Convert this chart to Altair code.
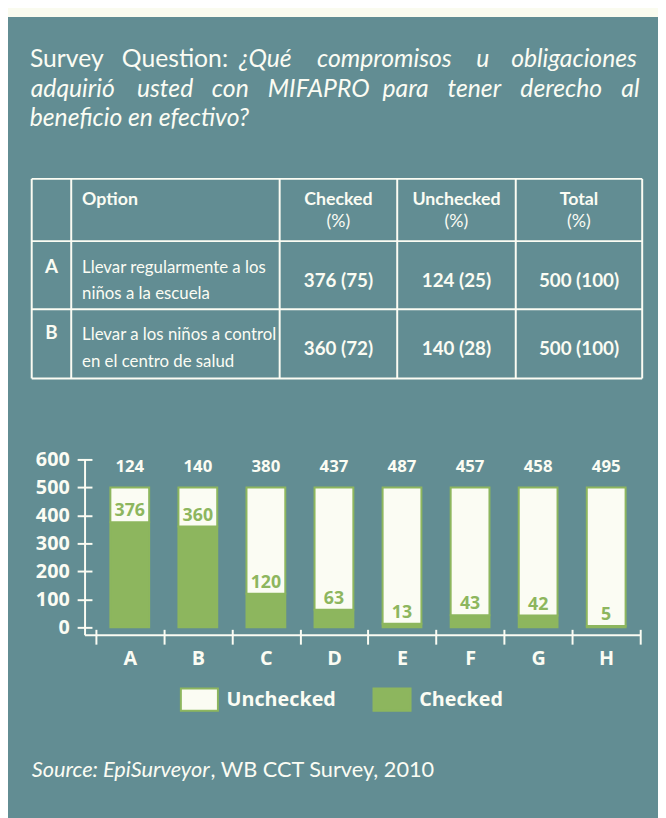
import altair as alt
import pandas as pd

# ---------------- data ----------------
categories = ["A", "B", "C", "D", "E", "F", "G", "H"]
checked = [376, 360, 120, 63, 13, 43, 42, 5]
unchecked = [124, 140, 380, 437, 487, 457, 458, 495]
series_names = ["Unchecked", "Checked"]

q_line1 = ["Survey", "Question:", "¿Qué", "compromisos", "u", "obligaciones"]
q_line1_italic = [False, False, True, True, True, True]
q_line2 = ["adquirió", "usted", "con", "MIFAPRO", "para", "tener", "derecho", "al"]
q_line3 = ["beneficio en efectivo?"]

table_header = ["Option", "Checked", "Unchecked", "Total"]
table_header_sub = ["(%)", "(%)", "(%)"]
table_ids = ["A", "B"]
table_option_l1 = ["Llevar regularmente a los", "Llevar a los niños a control"]
table_option_l2 = ["niños a la escuela", "en el centro de salud"]
table_checked = ["376 (75)", "360 (72)"]
table_unchecked = ["124 (25)", "140 (28)"]
table_total = ["500 (100)", "500 (100)"]

source_italic = ["Source: EpiSurveyor"]
source_rest = [", WB CCT Survey, 2010"]

# ---------------- layout / style ----------------
TEAL = "#628D93"
PAGE = "#FAFBEF"
CREAM = "#FBFCF3"
GREEN = "#8DB65E"
W, H = 658, 810
OFF = 8  # page margin -> chart coords

q1_cx = [67.5, 177, 268.5, 389, 488.5, 581]
q2_cx = [73.5, 167, 233, 322.5, 410.5, 480, 568, 638]
q_base = [63, 93, 122]

t_xs = [32, 72, 283, 402, 522, 650]
t_ys = [176, 239, 308, 378]
col_c = [342.5, 462, 586]

QF = "Lato"
TF = "Lato"
CF = "Open Sans"


def P(v):
    return v - OFF


def text_layer(df, **mark):
    return alt.Chart(df).mark_text(**mark).encode(
        x=alt.X("x:Q", scale=None, axis=None),
        y=alt.Y("y:Q", scale=None, axis=None),
        text="text:N",
    )


layers = []

# top cream strip
layers.append(
    alt.Chart(pd.DataFrame({"a": [0]})).mark_rect(color=PAGE).encode(
        x=alt.value(-10), x2=alt.value(W + 10), y=alt.value(-10), y2=alt.value(P(12))
    )
)

# question text
l1 = pd.DataFrame({"text": q_line1, "x": [P(v) for v in q1_cx], "y": P(q_base[0]), "it": q_line1_italic})
layers.append(text_layer(l1[~l1["it"]], font=QF, fontSize=25, color=CREAM, align="center", baseline="alphabetic"))
layers.append(text_layer(l1[l1["it"]], font=QF, fontSize=25, fontStyle="italic", color=CREAM, align="center", baseline="alphabetic"))
l2 = pd.DataFrame({"text": q_line2, "x": [P(v) for v in q2_cx], "y": P(q_base[1])})
layers.append(text_layer(l2, font=QF, fontSize=25, fontStyle="italic", color=CREAM, align="center", baseline="alphabetic"))
l3 = pd.DataFrame({"text": q_line3, "x": [P(30)], "y": [P(q_base[2])]})
layers.append(text_layer(l3, font=QF, fontSize=25, fontStyle="italic", color=CREAM, align="left", baseline="alphabetic"))

# table lines
hl = pd.DataFrame({"x": P(t_xs[0]), "x2": P(t_xs[-1]), "y": [P(v) for v in t_ys]})
layers.append(
    alt.Chart(hl).mark_rule(color=CREAM, strokeWidth=2).encode(
        x=alt.X("x:Q", scale=None, axis=None), x2="x2:Q", y=alt.Y("y:Q", scale=None, axis=None)
    )
)
vl = pd.DataFrame({"x": [P(v) for v in t_xs], "y": P(t_ys[0]), "y2": P(t_ys[-1])})
layers.append(
    alt.Chart(vl).mark_rule(color=CREAM, strokeWidth=2).encode(
        x=alt.X("x:Q", scale=None, axis=None), y=alt.Y("y:Q", scale=None, axis=None), y2="y2:Q"
    )
)

# header
hdr = pd.DataFrame({"text": table_header[1:], "x": [P(v) for v in col_c], "y": P(202)})
layers.append(text_layer(hdr, font=TF, fontSize=18, fontWeight="bold", color=CREAM, align="center", baseline="alphabetic"))
hdr2 = pd.DataFrame({"text": table_header_sub, "x": [P(v) for v in col_c], "y": P(225)})
layers.append(text_layer(hdr2, font=TF, fontSize=18, color=CREAM, align="center", baseline="alphabetic"))
hdr0 = pd.DataFrame({"text": table_header[:1], "x": [P(83)], "y": [P(202)]})
layers.append(text_layer(hdr0, font=TF, fontSize=18, fontWeight="bold", color=CREAM, align="left", baseline="alphabetic"))
# rows
row_base = [(271, 298, 285, 271), (339, 366, 354, 338)]
ids = pd.DataFrame({"text": table_ids, "x": P(52), "y": [P(r[3]) for r in row_base]})
layers.append(text_layer(ids, font=TF, fontSize=19, fontWeight="bold", color=CREAM, align="center", baseline="alphabetic"))
opts = pd.DataFrame({
    "text": table_option_l1 + table_option_l2,
    "x": P(83),
    "y": [P(r[0]) for r in row_base] + [P(r[1]) for r in row_base],
})
layers.append(text_layer(opts, font=TF, fontSize=17, color=CREAM, align="left", baseline="alphabetic"))
vals_rows = []
for i in range(2):
    for j, col in enumerate([table_checked, table_unchecked, table_total]):
        vals_rows.append({"text": col[i], "x": P(col_c[j]), "y": P(row_base[i][2])})
layers.append(text_layer(pd.DataFrame(vals_rows), font=TF, fontSize=19, fontWeight="bold", color=CREAM, align="center", baseline="alphabetic"))

# ---------------- bar chart ----------------
bars_df = pd.DataFrame({
    "cat": categories * 2,
    "status": ["Checked"] * len(categories) + ["Unchecked"] * len(categories),
    "value": checked + unchecked,
    "ord": [0] * len(categories) + [1] * len(categories),
})
xscale = alt.Scale(range=[P(86), P(648)], paddingInner=0, paddingOuter=0.0785, align=1)
yscale = alt.Scale(domain=[0, 600], range=[P(630), P(460)])

x_axis = alt.Axis(
    title=None, orient="bottom", offset=-(H - P(632)), domain=False, tickBand="extent",
    tickSize=15, tickColor=CREAM, tickWidth=2, labelAngle=0, labelFont=CF,
    labelFontWeight="bold", labelFontSize=20, labelColor=CREAM, labelBaseline="alphabetic",
    labelPadding=21, grid=False)
y_axis = alt.Axis(
    title=None, orient="left", offset=-P(93), domain=False, values=[0, 100, 200, 300, 400, 500, 600],
    tickSize=15, tickColor=CREAM, tickWidth=2, labelFont=CF, labelFontWeight="bold",
    labelFontSize=20, labelColor=CREAM, labelPadding=8, grid=False)

bars = alt.Chart(bars_df).mark_bar(
    width=alt.RelativeBandSize(0.57), stroke=GREEN, strokeWidth=2
).encode(
    x=alt.X("cat:N", scale=xscale, sort=categories, axis=x_axis),
    y=alt.Y("value:Q", stack="zero", scale=yscale, axis=y_axis),
    color=alt.Color("status:N", scale=alt.Scale(domain=series_names, range=[CREAM, GREEN]), legend=alt.Legend(
        title=None, orient="none", legendX=P(182) + 6.25, legendY=P(702) - 12.5, direction="horizontal",
        symbolType="M-1.5,-0.9H1.5V0.9H-1.5Z", symbolSize=625, symbolStrokeColor=GREEN,
        symbolStrokeWidth=2, symbolOpacity=1, labelFont=CF, labelFontWeight="bold",
        labelFontSize=20, labelColor=CREAM, labelOffset=14, columnPadding=33, padding=0)),
    order=alt.Order("ord:Q"),
)
layers.append(bars)

# axis lines
one = pd.DataFrame({"a": [0]})
layers.append(alt.Chart(one).mark_rule(color=CREAM, strokeWidth=2).encode(
    x=alt.value(P(86)), y=alt.value(P(460)), y2=alt.value(P(638))))
layers.append(alt.Chart(one).mark_rule(color=CREAM, strokeWidth=2).encode(
    x=alt.value(P(86)), x2=alt.value(P(648)), y=alt.value(P(638))))

lab_df = pd.DataFrame({"cat": categories, "checked": checked, "unchecked": unchecked})
layers.append(alt.Chart(lab_df).mark_text(
    font=CF, fontWeight="bold", fontSize=17, color=CREAM, baseline="middle"
).encode(x=alt.X("cat:N", sort=categories, axis=x_axis), y=alt.YDatum(572, axis=y_axis), text="unchecked:Q"))
layers.append(alt.Chart(lab_df).mark_text(
    font=CF, fontWeight="bold", fontSize=18, color=GREEN, baseline="alphabetic", dy=-6
).encode(x=alt.X("cat:N", sort=categories, axis=x_axis), y=alt.Y("checked:Q", axis=y_axis), text="checked:Q"))

# source
src1 = pd.DataFrame({"text": source_italic, "x": [P(32)], "y": [P(781)]})
layers.append(text_layer(src1, font=QF, fontSize=22, fontStyle="italic", color=CREAM, align="left", baseline="alphabetic"))
src2 = pd.DataFrame({"text": source_rest, "x": [P(213)], "y": [P(781)]})
layers.append(text_layer(src2, font=QF, fontSize=22, color=CREAM, align="left", baseline="alphabetic"))

chart = alt.layer(*layers).properties(
    width=W, height=H, padding=0, autosize=alt.AutoSizeParams(type="none"), background=TEAL
).configure_view(stroke=None)

chart.save("out.html", embed_options={"renderer": "svg", "actions": False})
